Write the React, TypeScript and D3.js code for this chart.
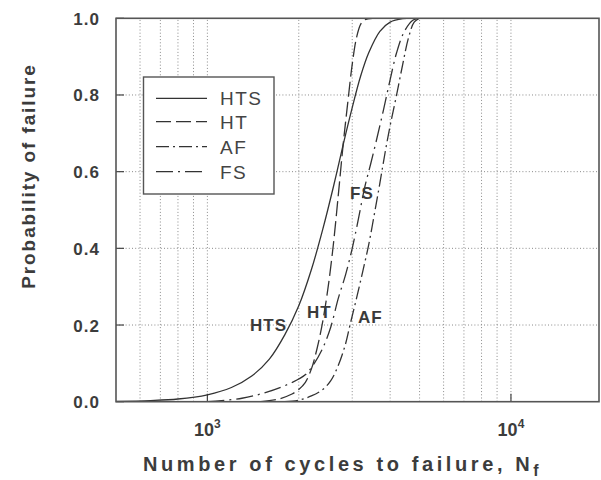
import React from "react";
import * as d3 from "d3";

// ---- data ----
const seriesNames = ["HTS", "HT", "AF", "FS"];

const htsCycles = [500, 650, 800, 1000, 1200, 1400, 1600, 1800, 2000, 2200, 2400, 2600, 2800, 3000, 3200, 3400, 3700, 4000, 4400, 5000];
const htsProb = [0.001, 0.003, 0.007, 0.018, 0.037, 0.067, 0.111, 0.175, 0.25, 0.344, 0.45, 0.56, 0.67, 0.767, 0.85, 0.91, 0.966, 0.99, 0.999, 1.0];

const htCycles = [1500, 1700, 1900, 2000, 2100, 2200, 2300, 2400, 2500, 2600, 2700, 2800, 2900, 3000, 3100, 3200, 3300, 3500];
const htProb = [0.0, 0.006, 0.02, 0.032, 0.05, 0.085, 0.14, 0.21, 0.3, 0.41, 0.54, 0.67, 0.78, 0.88, 0.95, 0.985, 0.996, 1.0];

const afCycles = [1800, 2000, 2200, 2400, 2550, 2700, 2850, 2950, 3100, 3250, 3400, 3550, 3700, 3850, 4000, 4200, 4400, 4600, 4800, 5000];
const afProb = [0.0, 0.004, 0.015, 0.032, 0.055, 0.095, 0.15, 0.2, 0.27, 0.34, 0.41, 0.49, 0.57, 0.65, 0.72, 0.8, 0.88, 0.95, 0.99, 1.0];

const fsCycles = [1000, 1300, 1570, 1900, 2100, 2250, 2400, 2550, 2700, 2850, 3000, 3150, 3300, 3450, 3600, 3800, 4000, 4200, 4450, 4750, 5000];
const fsProb = [0.0, 0.009, 0.025, 0.05, 0.07, 0.1, 0.14, 0.195, 0.27, 0.33, 0.4, 0.48, 0.56, 0.62, 0.68, 0.76, 0.84, 0.91, 0.965, 0.995, 1.0];

const yTicks = [0, 0.2, 0.4, 0.6, 0.8, 1.0];
const xMajorTicks = [1000, 10000];
const xGridValues = [600, 700, 800, 900, 1000, 2000, 3000, 4000, 5000, 6000, 7000, 8000, 9000, 10000];

// curve label placement (data coords)
const curveLabels = [
  { name: "HTS", n: 1382, p: 0.2 },
  { name: "HT", n: 2129, p: 0.235 },
  { name: "AF", n: 3133, p: 0.22 },
  { name: "FS", n: 2950, p: 0.545 },
];

const FONT = "'Liberation Sans', Arial, Helvetica, sans-serif";
const INK = "#3c3c3c";

export default function App() {
  const W = 601;
  const H = 480;
  const x = d3.scaleLog().domain([500, 19500]).range([116, 599]);
  const y = d3.scaleLinear().domain([0, 1]).range([401.7, 18.3]);

  const line = d3
    .line<[number, number]>()
    .x((d) => x(d[0]))
    .y((d) => y(d[1]))
    .curve(d3.curveCatmullRom.alpha(0.5));

  const series = [
    { name: "HTS", cycles: htsCycles, prob: htsProb, dash: "none" },
    { name: "HT", cycles: htCycles, prob: htProb, dash: "15,5" },
    { name: "AF", cycles: afCycles, prob: afProb, dash: "13,4,2,4" },
    { name: "FS", cycles: fsCycles, prob: fsProb, dash: "17,5,2,5" },
  ];

  const [x0, x1] = x.range();
  const [yb, yt] = y.range();

  const legendX = 143.5;
  const legendY = 77;
  const legendW = 130.5;
  const legendH = 117;
  const legendRows = [98.3, 121.7, 146.7, 171.7];

  return (
    <svg
      width={W}
      height={H}
      style={{ position: "absolute", left: 0, top: 0, background: "#fff" }}
      fontFamily={FONT}
    >
      <defs>
        <clipPath id="plotClip">
          <rect x={x0} y={yt} width={x1 - x0} height={yb - yt} />
        </clipPath>
      </defs>
      <rect x={0} y={0} width={W} height={H} fill="#fff" />

      {/* grid */}
      <g stroke="#8a8a8a" strokeWidth={1} strokeDasharray="1,2.2">
        {xGridValues.map((v) => (
          <line key={"gx" + v} x1={x(v)} x2={x(v)} y1={yb} y2={yt} />
        ))}
        {yTicks
          .filter((v) => v > 0 && v < 1)
          .map((v) => (
            <line key={"gy" + v} x1={x0} x2={x1} y1={y(v)} y2={y(v)} />
          ))}
      </g>

      {/* inner ticks */}
      <g stroke="#444" strokeWidth={1.2}>
        {yTicks.map((v) => (
          <line key={"ty" + v} x1={x0} x2={x0 + 8} y1={y(v)} y2={y(v)} />
        ))}
        {xMajorTicks.map((v) => (
          <line key={"tx" + v} x1={x(v)} x2={x(v)} y1={yb} y2={yb - 8} />
        ))}
      </g>

      {/* curves */}
      <g fill="none" stroke="#333" strokeWidth={1.3} clipPath="url(#plotClip)">
        {series.map((s) => (
          <path
            key={s.name}
            d={line(s.cycles.map((c, i) => [c, s.prob[i]] as [number, number])) || ""}
            strokeDasharray={s.dash}
          />
        ))}
      </g>

      {/* frame */}
      <rect
        x={x0}
        y={yt}
        width={x1 - x0}
        height={yb - yt}
        fill="none"
        stroke="#555"
        strokeWidth={1.6}
      />

      {/* legend */}
      <rect x={legendX} y={legendY} width={legendW} height={legendH} fill="#fff" stroke="#555" strokeWidth={1.4} />
      {series.map((s, i) => (
        <g key={"lg" + s.name}>
          <line
            x1={156}
            x2={207}
            y1={legendRows[i]}
            y2={legendRows[i]}
            stroke="#333"
            strokeWidth={1.3}
            strokeDasharray={s.dash}
          />
          <text x={220} y={legendRows[i] + 7} fontSize={19} fill="#444" letterSpacing={1.5}>
            {seriesNames[i]}
          </text>
        </g>
      ))}

      {/* curve labels */}
      {curveLabels.map((l) => (
        <text
          key={"cl" + l.name}
          x={x(l.n)}
          y={y(l.p) + 6}
          fontSize={17}
          fontWeight="bold"
          fill="#3a3a3a"
          letterSpacing={1}
        >
          {l.name}
        </text>
      ))}

      {/* y tick labels */}
      {yTicks.map((v) => (
        <text
          key={"yl" + v}
          x={100}
          y={y(v) + 6.5}
          textAnchor="end"
          fontSize={17}
          fontWeight="bold"
          fill={INK}
          letterSpacing={1}
        >
          {d3.format(".1f")(v)}
        </text>
      ))}

      {/* x tick labels */}
      {xMajorTicks.map((v) => (
        <text key={"xl" + v} x={x(v)} y={436} textAnchor="middle" fontSize={18} fontWeight="bold" fill={INK}>
          10
          <tspan dy={-8} fontSize={12}>
            {Math.round(Math.log10(v))}
          </tspan>
        </text>
      ))}

      {/* axis titles */}
      <text x={143} y={471} fontSize={20} fontWeight="bold" fill={INK} letterSpacing={3.6}>
        Number of cycles to failure, N
        <tspan dy={5} fontSize={16}>
          f
        </tspan>
      </text>
      <text
        transform={`translate(35,${176}) rotate(-90)`}
        textAnchor="middle"
        fontSize={19}
        fontWeight="bold"
        fill={INK}
        letterSpacing={1.9}
      >
        Probability of failure
      </text>
    </svg>
  );
}
